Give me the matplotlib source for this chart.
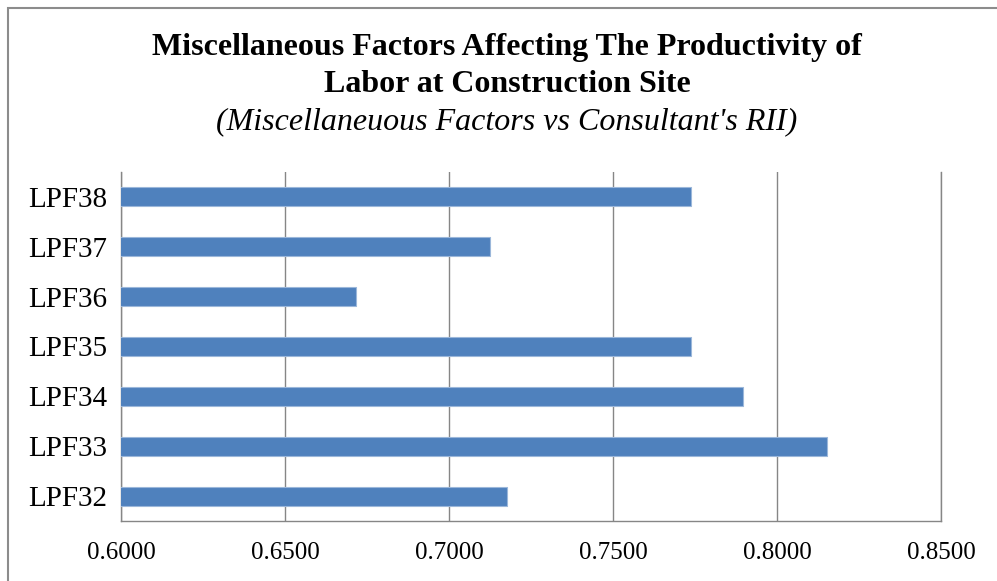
import matplotlib
matplotlib.use("Agg")
import matplotlib.pyplot as plt
from matplotlib.patches import Rectangle

factors = ["LPF32", "LPF33", "LPF34", "LPF35", "LPF36", "LPF37", "LPF38"]
rii = [0.7176, 0.8153, 0.7896, 0.7739, 0.6717, 0.7126, 0.7739]
xticks = [0.60, 0.65, 0.70, 0.75, 0.80, 0.85]

W, H = 997, 581
plt.rcParams["font.family"] = ["Liberation Serif", "DejaVu Serif"]

fig = plt.figure(figsize=(W / 100, H / 100), dpi=100)

# outer chart border (left and top edges visible)
fig.patches.append(Rectangle((8 / W, -0.05), 1.2, (H - 8) / H + 0.05,
                             transform=fig.transFigure, fill=False,
                             edgecolor="#8c8c8c", linewidth=1.5))

ax = fig.add_axes([121 / W, (H - 521) / H, (941 - 121) / W, (521 - 172) / H])
ax.barh(range(len(factors)), rii, height=0.38, left=0,
        color="#4f81bd", edgecolor="#9bb7da", linewidth=0.8, zorder=3)

ax.set_xlim(0.6, 0.85)
ax.set_ylim(-0.5, len(factors) - 0.5)
ax.set_xticks(xticks)
ax.set_xticklabels([f"{v:.4f}" for v in xticks], fontsize=18)
ax.set_yticks(range(len(factors)))
ax.set_yticklabels(factors, fontsize=21)
ax.tick_params(axis="x", length=0, pad=15)
ax.tick_params(axis="y", length=0, pad=10)

ax.grid(axis="x", color="#868686", linewidth=1.0, zorder=0)
ax.axvline(xticks[-1], color="#868686", linewidth=1.0, zorder=0, clip_on=False)
for side in ["top", "right"]:
    ax.spines[side].set_visible(False)
for side in ["left", "bottom"]:
    ax.spines[side].set_color("#868686")
    ax.spines[side].set_linewidth(1.0)

fig.text(507 / W, 1 - 48 / H, "Miscellaneous Factors Affecting The Productivity of",
         ha="center", va="center", fontsize=23, fontweight="bold")
fig.text(507 / W, 1 - 85 / H, "Labor at Construction Site",
         ha="center", va="center", fontsize=23, fontweight="bold")
fig.text(507 / W, 1 - 122 / H, "(Miscellaneuous Factors vs Consultant's RII)",
         ha="center", va="center", fontsize=23, fontstyle="italic")

fig.savefig("out.png", dpi=100)
